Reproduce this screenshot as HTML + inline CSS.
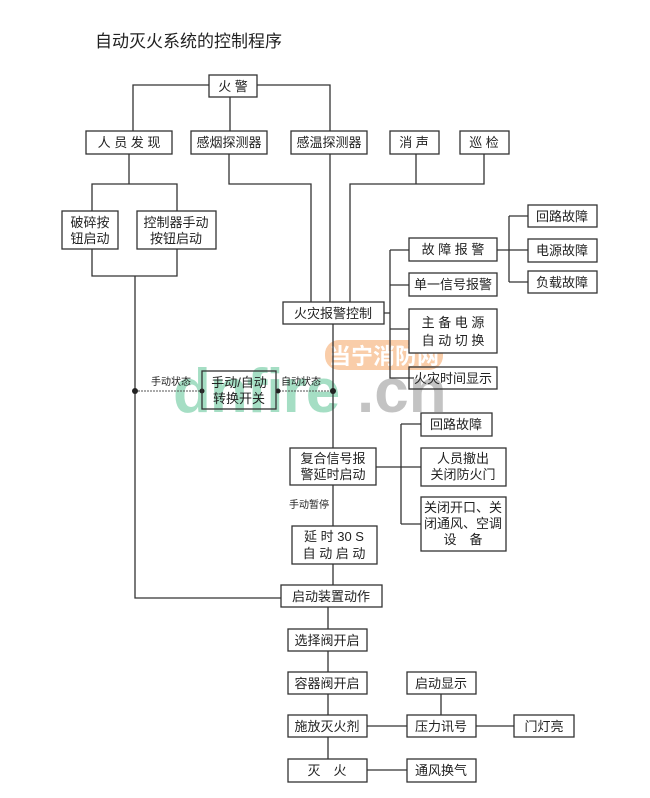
<!DOCTYPE html>
<html><head><meta charset="utf-8"><style>
body{margin:0;background:#fff}
svg{display:block}
text{font-family:"Liberation Sans","Noto Sans CJK SC","WenQuanYi Zen Hei",sans-serif;fill:#222}
.b{fill:#fff;stroke:#333;stroke-width:1.3}
.l{stroke:#333;stroke-width:1.3;fill:none}
.t{font-size:13px;text-anchor:middle}
</style></head><body>
<svg width="650" height="798" viewBox="0 0 650 798">
<text x="95" y="47" style="font-size:17px">自动灭火系统的控制程序</text>

<!-- watermark -->
<rect x="325" y="340" width="118" height="30" rx="14" fill="#f8c49a" opacity="0.85"/>
<text x="384" y="364" style="font-size:22px;text-anchor:middle;fill:#fff;font-weight:bold">当宁消防网</text>
<text x="173" y="412" style="font-size:62px;font-weight:bold;fill:#8fd6b6;opacity:0.8;letter-spacing:-1px">dnfire</text>
<text x="357" y="412" style="font-size:62px;font-weight:bold;fill:#b5b5b5;opacity:0.8">.cn</text>

<!-- connectors -->
<path class="l" d="M133 131V85H330V131 M230 97V131"/>
<path class="l" d="M129 154V184 M92 211V184H177V211"/>
<path class="l" d="M92 249V276H177V249 M135 276V598H281"/>
<path class="l" d="M229 154V184H311V302 M330 154V302"/>
<path class="l" d="M416 154V184 M484 154V184H350V302"/>
<path class="l" d="M384 313H390 M390 250V378H414 M390 250H409 M390 285H409 M390 329H414"/>
<path class="l" d="M497 250H509 M509 216V282 M509 216H528 M509 250H528 M509 282H528"/>
<path class="l" d="M333 324V448 M376 467H401 M401 424V524 M401 424H421 M401 467H421 M401 524H421"/>
<path class="l" d="M333 485V526 M333 564V585 M328 607V629 M328 651V672 M328 694V715 M328 737V759"/>
<path class="l" d="M367 726H407 M441 694V715 M476 726H514 M367 770H407"/>
<path d="M135 391H202 M276 391H333" stroke="#555" stroke-width="1" stroke-dasharray="2,1" fill="none"/>
<circle cx="135" cy="391" r="3" fill="#222"/>
<circle cx="202" cy="391" r="2.5" fill="#222"/>
<circle cx="278" cy="391" r="2.5" fill="#222"/>
<circle cx="333" cy="391" r="3" fill="#222"/>

<!-- boxes -->
<rect class="b" x="209" y="75" width="48" height="22"/><text class="t" x="233" y="91">火 警</text>
<rect class="b" x="86" y="131" width="86" height="23"/><text class="t" x="129" y="147">人 员 发 现</text>
<rect class="b" x="191" y="131" width="76" height="23"/><text class="t" x="229" y="147">感烟探测器</text>
<rect class="b" x="291" y="131" width="76" height="23"/><text class="t" x="329" y="147">感温探测器</text>
<rect class="b" x="390" y="131" width="49" height="23"/><text class="t" x="414" y="147">消 声</text>
<rect class="b" x="460" y="131" width="49" height="23"/><text class="t" x="484" y="147">巡 检</text>
<rect class="b" x="62" y="211" width="56" height="38"/><text class="t" x="90" y="227">破碎按</text><text class="t" x="90" y="243">钮启动</text>
<rect class="b" x="137" y="211" width="79" height="38"/><text class="t" x="176" y="227">控制器手动</text><text class="t" x="176" y="243">按钮启动</text>
<rect class="b" x="409" y="238" width="88" height="23"/><text class="t" x="453" y="254">故 障 报 警</text>
<rect class="b" x="409" y="273" width="88" height="23"/><text class="t" x="453" y="289">单一信号报警</text>
<rect class="b" x="528" y="205" width="69" height="22"/><text class="t" x="562" y="221">回路故障</text>
<rect class="b" x="528" y="239" width="69" height="23"/><text class="t" x="562" y="255">电源故障</text>
<rect class="b" x="528" y="271" width="69" height="22"/><text class="t" x="562" y="287">负载故障</text>
<rect class="b" x="283" y="302" width="101" height="22"/><text class="t" x="333" y="318">火灾报警控制</text>
<rect class="b" x="409" y="309" width="88" height="44"/><text class="t" x="453" y="327">主 备 电 源</text><text class="t" x="453" y="345">自 动 切 换</text>
<rect class="b" x="409" y="367" width="88" height="22" style="fill:none"/><text class="t" x="453" y="383">火灾时间显示</text>
<rect class="b" x="202" y="371" width="74" height="38" style="fill:none"/><text class="t" x="239" y="387">手动/自动</text><text class="t" x="239" y="403">转换开关</text>
<text x="151" y="385" style="font-size:10px">手动状态</text>
<text x="281" y="385" style="font-size:10px">自动状态</text>
<rect class="b" x="421" y="413" width="71" height="23"/><text class="t" x="456" y="429">回路故障</text>
<rect class="b" x="290" y="448" width="86" height="37"/><text class="t" x="333" y="463">复合信号报</text><text class="t" x="333" y="479">警延时启动</text>
<rect class="b" x="421" y="448" width="85" height="38"/><text class="t" x="463" y="463">人员撤出</text><text class="t" x="463" y="479">关闭防火门</text>
<text x="289" y="508" style="font-size:10px">手动暂停</text>
<rect class="b" x="421" y="497" width="85" height="54"/><text class="t" x="463" y="512">关闭开口、关</text><text class="t" x="463" y="528">闭通风、空调</text><text class="t" x="463" y="544">设　备</text>
<rect class="b" x="292" y="526" width="85" height="38"/><text class="t" x="334" y="541">延 时 30 S</text><text class="t" x="334" y="558">自 动 启 动</text>
<rect class="b" x="281" y="585" width="101" height="22"/><text class="t" x="331" y="601">启动装置动作</text>
<rect class="b" x="288" y="629" width="79" height="22"/><text class="t" x="327" y="645">选择阀开启</text>
<rect class="b" x="288" y="672" width="79" height="22"/><text class="t" x="327" y="688">容器阀开启</text>
<rect class="b" x="288" y="715" width="79" height="22"/><text class="t" x="327" y="731">施放灭火剂</text>
<rect class="b" x="288" y="759" width="79" height="23"/><text class="t" x="327" y="775">灭　火</text>
<rect class="b" x="407" y="672" width="69" height="22"/><text class="t" x="441" y="688">启动显示</text>
<rect class="b" x="407" y="715" width="69" height="22"/><text class="t" x="441" y="731">压力讯号</text>
<rect class="b" x="514" y="715" width="60" height="22"/><text class="t" x="544" y="731">门灯亮</text>
<rect class="b" x="407" y="759" width="69" height="23"/><text class="t" x="441" y="775">通风换气</text>
</svg>
</body></html>
